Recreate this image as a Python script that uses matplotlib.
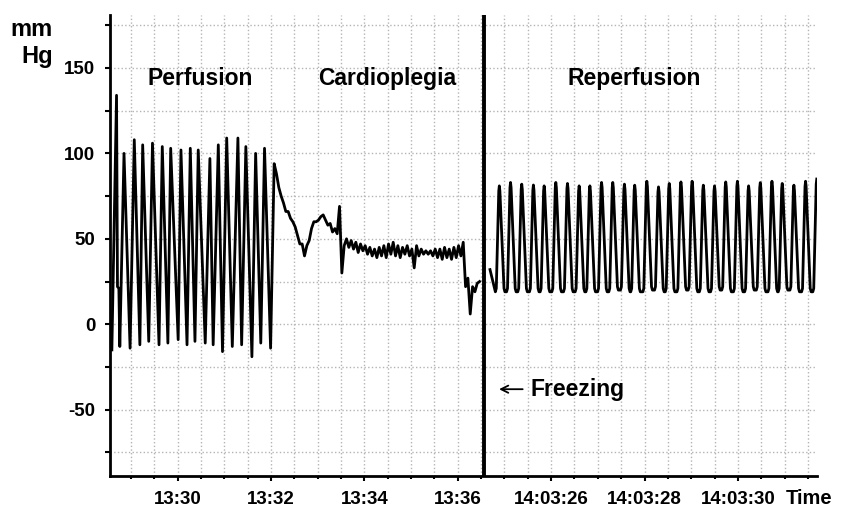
import numpy as np
import matplotlib
matplotlib.use('Agg')
import matplotlib.pyplot as plt

plt.rcParams['font.family'] = ['Liberation Sans', 'DejaVu Sans']
plt.rcParams['font.weight'] = 'bold'
plt.rcParams['axes.unicode_minus'] = False

# --- perfusion (time in minutes after 13:00) ---
perf_start_t, perf_start_v = 28.59, -15
perf_peak_t = [28.69, 28.85, 29.07, 29.25, 29.46, 29.67, 29.85, 30.07, 30.27,
               30.44, 30.69, 30.87, 31.05, 31.29, 31.46, 31.67, 31.86]
perf_peak_v = [134, 100, 108, 105, 106, 104, 103, 102, 103,
               102, 97, 105, 109, 109, 104, 100, 103]
perf_trough_t = [28.76, 28.98, 29.19, 29.38, 29.60, 29.79, 30.01, 30.20, 30.37,
                 30.59, 30.76, 30.96, 31.17, 31.37, 31.59, 31.78, 31.99]
perf_trough_v = [-13, -14, -12, -10, -12, -11, -9, -12, -10,
                 -11, -12, -16, -13, -12, -19, -11, -14]
perf_notch_t = [28.71, 28.74]
perf_notch_v = [22, 21]

# --- cardioplegia (sampled every 3 s from 13:32:04) ---
cardio_start_s = 4
cardio_step_s = 3
cardio_v = [94, 88, 80, 75, 71, 66, 66, 62, 60, 57, 52, 47, 47, 40, 46, 49,
            56, 60, 60, 61, 63, 64, 61, 58, 59, 54, 56, 53, 69, 30, 46, 50,
            45, 49, 44, 48, 42, 47, 43, 46, 41, 45, 40, 44, 39, 45, 40, 46,
            39, 47, 41, 48, 40, 46, 39, 45, 41, 46, 40, 44, 33, 46, 40, 44,
            41, 43, 41, 43, 40, 44, 39, 44, 38, 45, 39, 44, 38, 45, 39, 46,
            40, 48, 22, 27, 6, 22, 19, 24, 25]

# --- reperfusion (time in seconds after 14:03:00) ---
repf_start_t, repf_start_v = 24.69, 32
repf_peak_t = [24.89, 25.13, 25.37, 25.62, 25.85, 26.10, 26.35, 26.60, 26.83,
               27.08, 27.32, 27.57, 27.79, 28.05, 28.30, 28.53, 28.78, 29.02,
               29.26, 29.50, 29.74, 29.99, 30.23, 30.48, 30.73, 30.95, 31.20,
               31.45, 31.69]
repf_peak_v = [81, 83, 82, 81.5, 81, 83, 82.4, 81, 81, 83, 83, 82, 81.4, 83.7,
               80.4, 82.4, 83.3, 83.7, 81.4, 81, 83.3, 83.7, 81, 82.9, 83.7,
               82.4, 81.4, 83.7, 85]
repf_trough_v = [19, 19, 19, 19, 19, 19, 19, 19, 19, 19, 19, 20, 19, 19, 20,
                 19, 19, 20, 19, 19, 20, 19, 19, 20, 19, 19, 20, 19, 19]
# fast upstroke, slower fall, rounded flat diastole
repf_rise_s, repf_fall_s = 0.065, 0.10

left_ticks = [30, 32, 34, 36]
left_labels = ['13:30', '13:32', '13:34', '13:36']
right_ticks = [26, 28, 30]
right_labels = ['14:03:26', '14:03:28', '14:03:30']


def left_pos(m):
    return 2 + (np.asarray(m, dtype=float) - 30) * 2


def right_pos(s):
    return 18 + (np.asarray(s, dtype=float) - 26) * 2


# perfusion + cardioplegia trace
t_left = [perf_start_t]
v_left = [perf_start_v]
for i in range(len(perf_peak_t)):
    t_left.append(perf_peak_t[i]); v_left.append(perf_peak_v[i])
    if i == 0:
        t_left += perf_notch_t; v_left += perf_notch_v
    t_left.append(perf_trough_t[i]); v_left.append(perf_trough_v[i])
cardio_t = 32 + (cardio_start_s + cardio_step_s * np.arange(len(cardio_v))) / 60
t_left += list(cardio_t)
v_left += cardio_v

# reperfusion trace
t_right = [repf_start_t]
v_right = [repf_start_v]
for i in range(len(repf_peak_t)):
    tp = repf_peak_t[i]
    t_right += [tp - repf_rise_s - 0.02, tp - repf_rise_s, tp - 0.012, tp]
    v_right += [repf_trough_v[i], repf_trough_v[i] + 2, repf_peak_v[i] - 3, repf_peak_v[i]]
    if i + 1 < len(repf_peak_t):
        t_right += [tp + 0.012, tp + repf_fall_s, tp + repf_fall_s + 0.02]
        v_right += [repf_peak_v[i] - 3, repf_trough_v[i + 1] + 2, repf_trough_v[i + 1]]

fig = plt.figure(figsize=(8.41, 5.09), dpi=100)
ax = fig.add_axes([110 / 841, 1 - 476 / 509, 707 / 841, 461 / 509])

ax.plot(left_pos(t_left), v_left, color='black', lw=2.0, solid_joinstyle='round')
ax.plot(right_pos(t_right), v_right, color='black', lw=2.0, solid_joinstyle='round')

freeze_pos = 15.12
ax.axvline(freeze_pos, color='black', lw=2.8, zorder=5)

ax.set_xlim(-0.9, 29.39)
ax.set_ylim(-88.8, 181)

major_x = list(left_pos(left_ticks)) + list(right_pos(right_ticks))
ax.set_xticks(major_x)
ax.set_xticklabels(left_labels + right_labels)
ax.set_xticks(np.arange(0, 30), minor=True)
ax.set_yticks([-50, 0, 50, 100, 150])
ax.set_yticks([-75, -25, 25, 75, 125, 175], minor=True)

ax.tick_params(axis='x', which='major', length=3.5, width=1.5, pad=7, labelsize=13.5)
ax.tick_params(axis='x', which='minor', length=2.2, width=1.5)
ax.tick_params(axis='y', which='both', length=3.5, width=1.5, pad=7, labelsize=13.5)

ax.grid(True, which='both', color='#b4b4b4', linestyle=':', lw=1)
ax.set_axisbelow(True)

for side in ['top', 'right']:
    ax.spines[side].set_visible(False)
for side in ['left', 'bottom']:
    ax.spines[side].set_linewidth(2)

ax.text(2.96, 144, 'Perfusion', ha='center', va='center', fontsize=16.5)
ax.text(10.97, 144, 'Cardioplegia', ha='center', va='center', fontsize=16.5)
ax.text(21.55, 144, 'Reperfusion', ha='center', va='center', fontsize=16.5)
ax.annotate('', xy=(15.65, -38), xytext=(16.9, -38),
            arrowprops=dict(arrowstyle='->', lw=1.3, color='black', mutation_scale=13))
ax.text(17.1, -38, 'Freezing', ha='left', va='center', fontsize=16.5)

fig.text(53 / 841, 1 - 29 / 509, 'mm', ha='right', va='center', fontsize=17)
fig.text(53 / 841, 1 - 57 / 509, 'Hg', ha='right', va='center', fontsize=17)
fig.text(786 / 841, 1 - 498 / 509, 'Time', ha='left', va='center', fontsize=14.5)

fig.savefig('out.png', dpi=100)
